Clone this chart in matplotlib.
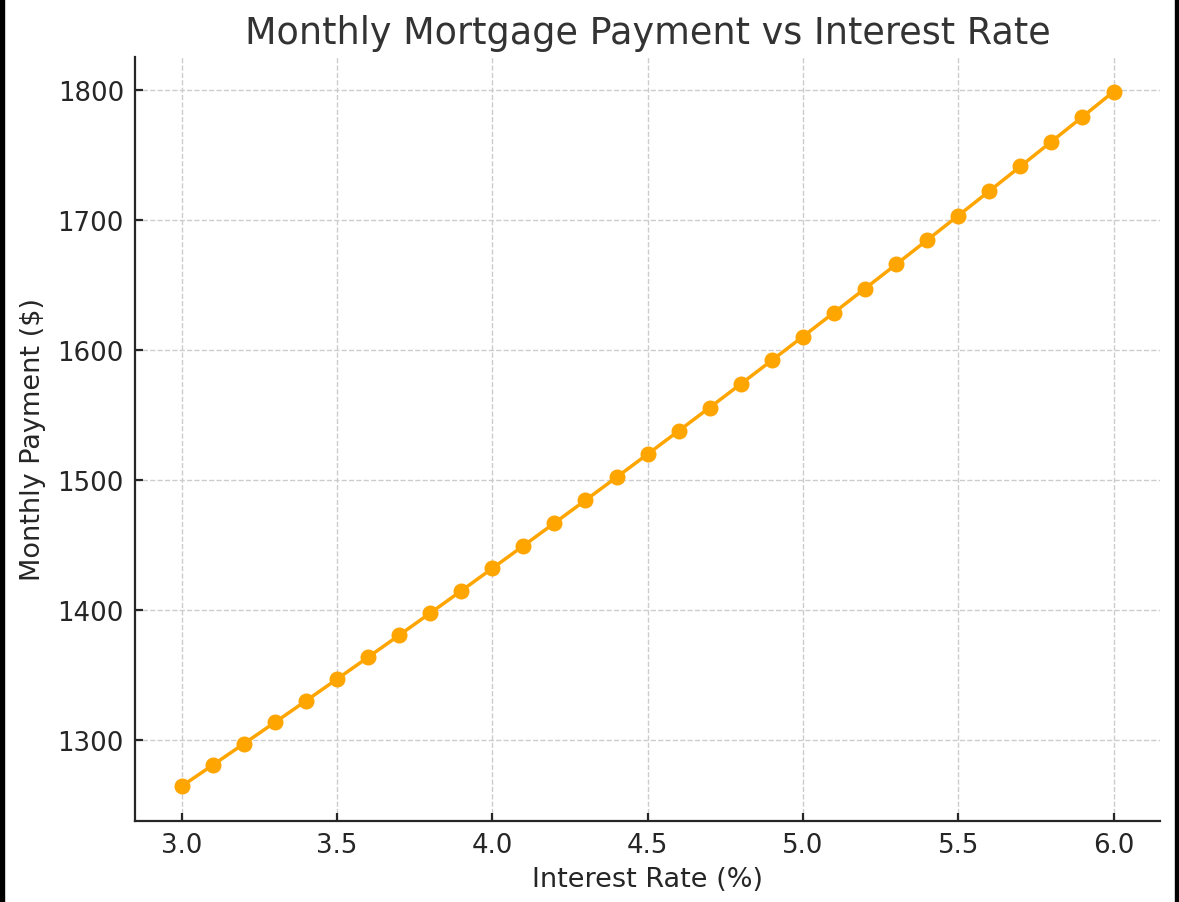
import matplotlib
matplotlib.use('Agg')
import matplotlib.pyplot as plt
from matplotlib.patches import Rectangle

# interest rate (%) and monthly payment ($)
rates = [3.0, 3.1, 3.2, 3.3, 3.4, 3.5, 3.6, 3.7, 3.8, 3.9,
         4.0, 4.1, 4.2, 4.3, 4.4, 4.5, 4.6, 4.7, 4.8, 4.9,
         5.0, 5.1, 5.2, 5.3, 5.4, 5.5, 5.6, 5.7, 5.8, 5.9, 6.0]
payments = [1264.81, 1281.07, 1297.42, 1313.86, 1330.41, 1347.13, 1363.95,
            1380.87, 1397.87, 1414.98, 1432.25, 1449.62, 1467.08, 1484.64,
            1502.29, 1520.06, 1537.93, 1555.91, 1573.97, 1592.15, 1610.46,
            1628.84, 1647.33, 1665.92, 1684.59, 1703.37, 1722.24, 1741.20,
            1760.27, 1779.38, 1798.65]

fig = plt.figure(figsize=(11.79, 9.03), dpi=100)
ax = fig.add_axes([0.1145, 0.0897, 0.8695, 0.8461])

ax.plot(rates, payments, color='#FFA500', linewidth=2.5, marker='o', markersize=10.5)

ax.set_title('Monthly Mortgage Payment vs Interest Rate', fontsize=26.3,
             color='#333333', pad=10)
ax.set_xlabel('Interest Rate (%)', fontsize=19.5, color='#262626', labelpad=6)
ax.set_ylabel('Monthly Payment ($)', fontsize=19.5, color='#262626', labelpad=8)

ax.grid(True, linestyle='--', color='#cccccc', linewidth=1)
ax.set_axisbelow(True)
ax.spines['top'].set_visible(False)
ax.spines['right'].set_visible(False)
for s in ('left', 'bottom'):
    ax.spines[s].set_linewidth(1.6)
    ax.spines[s].set_color('#262626')
ax.tick_params(direction='in', labelsize=18.7, length=6, width=1.6,
               colors='#262626', pad=8)

# dark frame edges of the screenshot
fig.patches.append(Rectangle((0, 0), 0.003, 1, transform=fig.transFigure,
                             color='black', zorder=10))
fig.patches.append(Rectangle((0.9966, 0), 0.0034, 1, transform=fig.transFigure,
                             color='black', zorder=10))

fig.savefig('out.png', dpi=100)
